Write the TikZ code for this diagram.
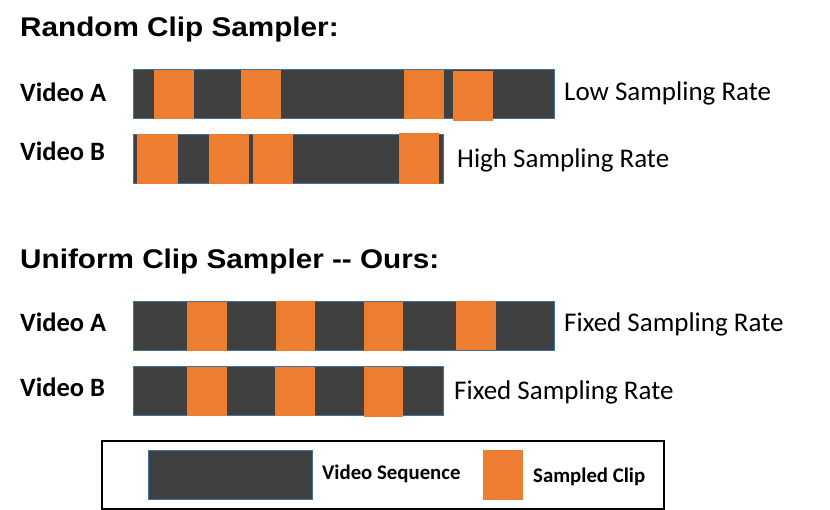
\documentclass[tikz,border=0pt]{standalone}
\usepackage{fontspec}
\setmainfont{Carlito}
\newfontfamily\titlefont{Liberation Sans}[FakeStretch=1.1]
\definecolor{vdark}{HTML}{404040}
\definecolor{vorange}{HTML}{ED7D31}
\definecolor{vborder}{HTML}{41719C}
\tikzset{
  seqbar/.style={fill=vdark, draw=vborder, line width=1pt},
  clipbox/.style={fill=vorange, draw=none},
  titletext/.style={anchor=base west, inner sep=0pt, font=\titlefont\bfseries\fontsize{27}{32}\selectfont},
  vidlabel/.style={anchor=base west, inner sep=0pt, font=\bfseries\fontsize{26.5}{30}\selectfont},
  ratelabel/.style={anchor=base west, inner sep=0pt, font=\fontsize{27}{30}\selectfont},
  legtext/.style={anchor=base west, inner sep=0pt, font=\bfseries\fontsize{20.8}{24}\selectfont},
}
\begin{document}
\begin{tikzpicture}[x=1pt,y=-1pt]
\useasboundingbox (0,0) rectangle (830,510);
% titles
\node[titletext] (t1) at (20,37) {Random Clip Sampler:};
\node[titletext] (t2) at (20,269) {Uniform Clip Sampler -- Ours:};
% labels
\node[vidlabel] (ra) at (20,102) {Video A};
\node[vidlabel] (rb) at (20,161) {Video B};
\node[vidlabel] (ua) at (20,332) {Video A};
\node[vidlabel] (ub) at (20,397) {Video B};
\node[ratelabel] (rra) at (564,101) {Low Sampling Rate};
\node[ratelabel] (rrb) at (457,168) {High Sampling Rate};
\node[ratelabel] (rua) at (564,332) {Fixed Sampling Rate};
\node[ratelabel] (rub) at (454,400) {Fixed Sampling Rate};
% random video A
\draw[seqbar] (133,70) rectangle (554,119);
\fill[clipbox] (154,70) rectangle (194,119);
\fill[clipbox] (241,70) rectangle (281,119);
\fill[clipbox] (404,70) rectangle (444,119);
\fill[clipbox] (453,71) rectangle (493,121);
% random video B
\draw[seqbar] (133,135) rectangle (443,184);
\fill[clipbox] (137,134) rectangle (178,184);
\fill[clipbox] (209,134) rectangle (249,184);
\fill[clipbox] (253,134) rectangle (293,184);
\fill[clipbox] (399,133) rectangle (439,184);
% uniform video A
\draw[seqbar] (133,302) rectangle (554,351);
\fill[clipbox] (187,302) rectangle (227,351);
\fill[clipbox] (276,301) rectangle (315,351);
\fill[clipbox] (364,302) rectangle (403,351);
\fill[clipbox] (456,301) rectangle (496,350);
% uniform video B
\draw[seqbar] (133,367) rectangle (443,416);
\fill[clipbox] (187,367) rectangle (227,416);
\fill[clipbox] (275,367) rectangle (315,416);
\fill[clipbox] (364,367) rectangle (403,417);
% legend
\draw[black, line width=1.3pt] (102,441) rectangle (664,509);
\draw[seqbar] (148,450) rectangle (312,499);
\node[legtext] (lseq) at (322,479) {Video Sequence};
\fill[clipbox] (483,450) rectangle (523,500);
\node[legtext] (lclip) at (533,482) {Sampled Clip};
\end{tikzpicture}
\end{document}
